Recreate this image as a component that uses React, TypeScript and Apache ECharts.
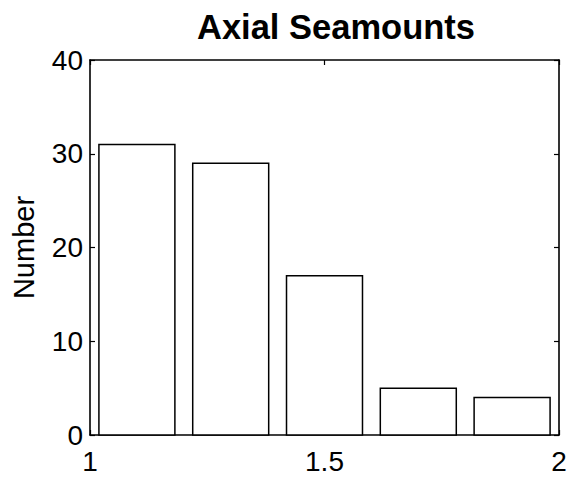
import React, { useEffect, useRef } from "react";
import * as echarts from "echarts";

const titleText = "Axial Seamounts";
const yAxisName = "Number";
const binCenters = [1.1, 1.3, 1.5, 1.7, 1.9];
const counts = [31, 29, 17, 5, 4];
const xMin = 1;
const xMax = 2;
const xInterval = 0.5;
const yMin = 0;
const yMax = 40;
const yInterval = 10;

export default function App() {
  const ref = useRef<HTMLDivElement>(null);
  useEffect(() => {
    if (!ref.current) return;
    const chart = echarts.init(ref.current, undefined, { renderer: "svg" });
    const halfWidth = 0.081;
    const font = "'Liberation Sans', Arial, Helvetica, sans-serif";
    const axisLine = { show: true, onZero: false, lineStyle: { color: "#000", width: 1.6 } };
    const tick = { show: true, inside: true, length: 5, lineStyle: { color: "#000", width: 1.2 } };
    chart.setOption({
      animation: false,
      backgroundColor: "#fff",
      title: {
        text: titleText,
        left: 192,
        top: 4,
        textStyle: { fontFamily: font, fontSize: 34.5, fontWeight: "bold", color: "#000" },
      },
      grid: { left: 90, right: 13, top: 60, bottom: 46, containLabel: false },
      xAxis: [
        {
          type: "value",
          min: xMin,
          max: xMax,
          interval: xInterval,
          position: "bottom",
          axisLine,
          axisTick: tick,
          splitLine: { show: false },
          axisLabel: { fontFamily: font, fontSize: 28, color: "#000", margin: 12 },
        },
        {
          type: "value",
          min: xMin,
          max: xMax,
          interval: xInterval,
          position: "top",
          axisLine,
          axisTick: tick,
          splitLine: { show: false },
          axisLabel: { show: false },
        },
      ],
      yAxis: [
        {
          type: "value",
          min: yMin,
          max: yMax,
          interval: yInterval,
          position: "left",
          name: yAxisName,
          nameLocation: "middle",
          nameGap: 52,
          nameTextStyle: { fontFamily: font, fontSize: 29, color: "#000" },
          axisLine,
          axisTick: tick,
          splitLine: { show: false },
          axisLabel: { fontFamily: font, fontSize: 28, color: "#000", margin: 7 },
        },
        {
          type: "value",
          min: yMin,
          max: yMax,
          interval: yInterval,
          position: "right",
          axisLine,
          axisTick: tick,
          splitLine: { show: false },
          axisLabel: { show: false },
        },
      ],
      series: [
        {
          type: "custom",
          xAxisIndex: 0,
          yAxisIndex: 0,
          data: binCenters.map((c, i) => [c, counts[i]]),
          renderItem: (params: any, api: any) => {
            const c = api.value(0);
            const v = api.value(1);
            const p0 = api.coord([c - halfWidth, v]);
            const p1 = api.coord([c + halfWidth, 0]);
            return {
              type: "rect",
              shape: { x: p0[0], y: p0[1], width: p1[0] - p0[0], height: p1[1] - p0[1] },
              style: { fill: "#fff", stroke: "#000", lineWidth: 1.5 },
            };
          },
        },
      ],
    });
    return () => chart.dispose();
  }, []);
  return (
    <div
      ref={ref}
      style={{ position: "fixed", left: 0, top: 0, width: 572, height: 481, background: "#fff" }}
    />
  );
}
